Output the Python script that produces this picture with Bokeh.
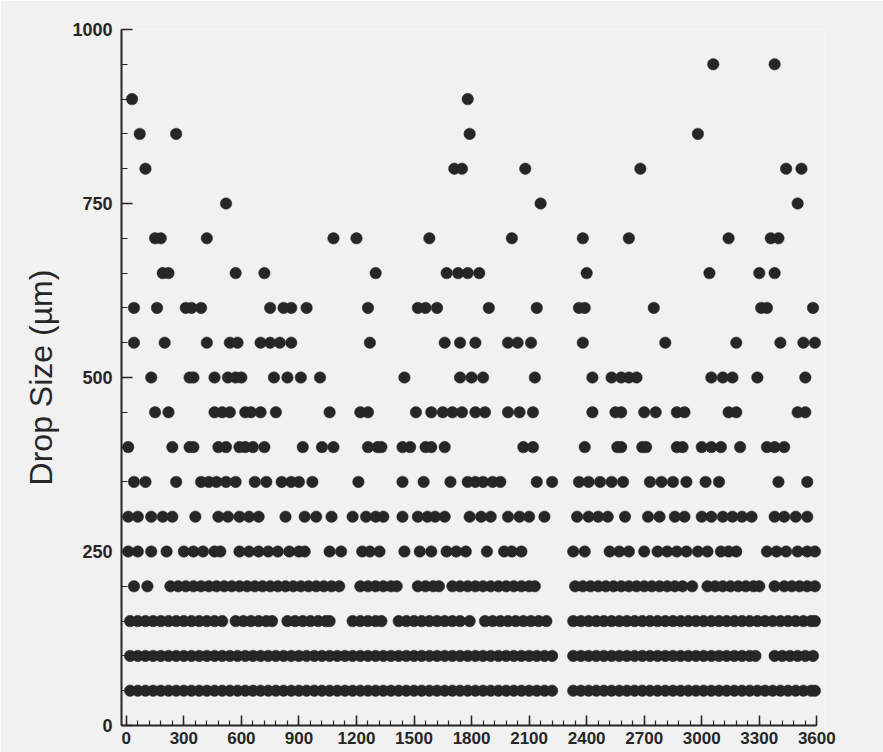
from bokeh.plotting import figure
from bokeh.models import Range1d, FixedTicker, ColumnDataSource
from bokeh.embed import file_html
from bokeh.resources import INLINE

# ---- data: time (s) at which each drop-size class (um) was observed ----
y950 = [3060, 3380]
y900 = [30, 1780]
y850 = [70, 260, 1790, 2980]
y800 = [100, 1710, 1750, 2080, 2680, 3440, 3520]
y750 = [520, 2160, 3500]
y700 = [150, 180, 420, 1080, 1200, 1580, 2010, 2380, 2620, 3140, 3360, 3400]
y650 = [190, 220, 570, 720, 1300, 1670, 1730, 1780, 1840, 2400, 3040, 3300, 3380]
y600 = [40, 160, 310, 340, 390, 750, 820, 860, 940, 1260, 1520, 1560, 1620, 1890,
        2140, 2360, 2390, 2750, 3310, 3340, 3580]
y550 = [40, 200, 420, 540, 580, 700, 750, 800, 860, 1270, 1660, 1740, 1820, 1990,
        2040, 2110, 2380, 2810, 3180, 3410, 3530, 3590]
y500 = [130, 330, 350, 460, 530, 570, 600, 770, 840, 910, 1010, 1450, 1740, 1800,
        1860, 2130, 2430, 2530, 2580, 2620, 2660, 3050, 3110, 3160, 3290, 3540]
y450 = [150, 220, 460, 500, 540, 620, 650, 700, 780, 1060, 1220, 1260, 1510, 1590,
        1650, 1700, 1750, 1820, 1870, 1990, 2050, 2120, 2430, 2550, 2580, 2700, 2760,
        2870, 2910, 3140, 3180, 3500, 3540]
y400 = [10, 240, 330, 350, 480, 520, 590, 620, 660, 720, 920, 1020, 1080, 1260, 1310,
        1330, 1440, 1480, 1560, 1590, 1660, 2070, 2120, 2390, 2560, 2580, 2690, 2710,
        2870, 2900, 3000, 3050, 3100, 3200, 3340, 3380, 3430]
y350 = [40, 100, 260, 390, 430, 470, 520, 570, 670, 730, 810, 860, 900, 970, 1210,
        1440, 1550, 1690, 1780, 1820, 1860, 1910, 1950, 2140, 2220, 2360, 2410, 2470,
        2530, 2590, 2730, 2790, 2850, 2920, 3020, 3090, 3400, 3550]
y300 = [10, 60, 130, 190, 240, 360, 480, 530, 590, 640, 690, 830, 930, 990, 1070,
        1180, 1250, 1300, 1340, 1440, 1520, 1570, 1610, 1660, 1790, 1850, 1900, 1990,
        2050, 2100, 2180, 2350, 2410, 2460, 2510, 2600, 2720, 2780, 2860, 2910, 3000,
        3050, 3110, 3160, 3210, 3260, 3380, 3430, 3490, 3550]
y250 = [10, 60, 130, 210, 300, 350, 400, 460, 490, 590, 640, 690, 740, 790, 850, 900,
        930, 1060, 1120, 1230, 1270, 1320, 1450, 1530, 1590, 1670, 1720, 1770, 1880,
        1970, 2010, 2060, 2330, 2390, 2520, 2570, 2620, 2700, 2770, 2820, 2870, 2920,
        2980, 3030, 3100, 3140, 3180, 3340, 3390, 3440, 3500, 3550, 3590]
y200 = [40, 110, 230, 270, 310, 350, 390, 430, 470, 510, 550, 590, 630, 670, 710, 750,
        790, 830, 870, 910, 950, 990, 1030, 1070, 1110, 1220, 1260, 1300, 1340, 1380,
        1410, 1520, 1560, 1600, 1630, 1700, 1740, 1780, 1820, 1860, 1900, 1940, 1980,
        2020, 2060, 2100, 2130, 2340, 2380, 2420, 2460, 2500, 2540, 2580, 2620, 2660,
        2700, 2740, 2780, 2820, 2860, 2900, 2950, 3030, 3070, 3110, 3150, 3190, 3230,
        3270, 3300, 3380, 3430, 3470, 3510, 3550, 3590]
y150 = [20, 60, 100, 140, 180, 220, 260, 300, 340, 380, 420, 460, 500, 570, 610, 650,
        690, 730, 760, 840, 880, 920, 960, 1000, 1040, 1060, 1180, 1220, 1260, 1300,
        1330, 1420, 1460, 1500, 1540, 1580, 1620, 1660, 1700, 1740, 1790, 1870, 1910,
        1950, 1990, 2030, 2070, 2110, 2150, 2190, 2330, 2370, 2410, 2450, 2490, 2530,
        2570, 2610, 2650, 2690, 2730, 2770, 2810, 2850, 2890, 2930, 2970, 3010, 3050,
        3090, 3130, 3170, 3210, 3250, 3290, 3330, 3370, 3410, 3450, 3490, 3530, 3570,
        3590]
y100 = [20, 60, 100, 140, 180, 220, 260, 300, 340, 380, 420, 460, 500, 540, 580, 620,
        660, 700, 740, 780, 820, 860, 900, 940, 980, 1020, 1060, 1100, 1140, 1180, 1220,
        1260, 1300, 1340, 1380, 1420, 1460, 1500, 1540, 1580, 1620, 1660, 1700, 1740,
        1780, 1820, 1860, 1900, 1940, 1980, 2020, 2060, 2100, 2140, 2180, 2220, 2330,
        2370, 2410, 2450, 2490, 2530, 2570, 2610, 2650, 2690, 2730, 2770, 2810, 2850,
        2890, 2930, 2970, 3010, 3050, 3090, 3130, 3170, 3210, 3250, 3280, 3380, 3420,
        3460, 3500, 3540, 3580]
y50 = [20, 60, 100, 140, 180, 220, 260, 300, 340, 380, 420, 460, 500, 540, 580, 620,
       660, 700, 740, 780, 820, 860, 900, 940, 980, 1020, 1060, 1100, 1140, 1180, 1220,
       1260, 1300, 1340, 1380, 1420, 1460, 1500, 1540, 1580, 1620, 1660, 1700, 1740,
       1780, 1820, 1860, 1900, 1940, 1980, 2020, 2060, 2100, 2140, 2180, 2220, 2330,
       2370, 2410, 2450, 2490, 2530, 2570, 2610, 2650, 2690, 2730, 2770, 2810, 2850,
       2890, 2930, 2970, 3010, 3050, 3090, 3130, 3170, 3210, 3250, 3290, 3330, 3370,
       3410, 3450, 3490, 3530, 3570, 3590]

size_levels = [50, 100, 150, 200, 250, 300, 350, 400, 450, 500, 550, 600, 650, 700,
               750, 800, 850, 900, 950]
time_rows = [y50, y100, y150, y200, y250, y300, y350, y400, y450, y500, y550, y600,
             y650, y700, y750, y800, y850, y900, y950]

x_major_ticks = [0, 300, 600, 900, 1200, 1500, 1800, 2100, 2400, 2700, 3000, 3300, 3600]
y_major_ticks = [0, 250, 500, 750, 1000]
y_label = "Drop Size (\u00b5m)"

xs, ys = [], []
for lvl, row in zip(size_levels, time_rows):
    xs.extend(row)
    ys.extend([lvl] * len(row))
src = ColumnDataSource(data=dict(t=xs, d=ys))

BG = "#f1f1f1"
INK = "#262626"

p = figure(frame_width=703, frame_height=696,
           x_range=Range1d(-25, 3640), y_range=Range1d(0, 1000),
           output_backend="svg", toolbar_location=None,
           min_border_left=121, min_border_right=59,
           min_border_top=29, min_border_bottom=27)
p.background_fill_color = BG
p.border_fill_color = BG
p.outline_line_color = None
p.grid.visible = False

p.scatter("t", "d", source=src, size=11.5, fill_color=INK, line_color=INK, line_width=0.5)

# x axis
xa = p.xaxis[0]
xa.ticker = FixedTicker(ticks=x_major_ticks, minor_ticks=list(range(0, 3601, 60)))
xa.bounds = (-25, 3600)
xa.axis_line_color = INK
xa.axis_line_width = 2
xa.major_tick_line_color = INK
xa.minor_tick_line_color = INK
xa.major_tick_line_width = 1.5
xa.minor_tick_line_width = 1.2
xa.major_tick_in = 10
xa.major_tick_out = 0
xa.minor_tick_in = 5
xa.minor_tick_out = 0
xa.major_label_standoff = 6
xa.major_label_text_font = "Liberation Sans"
xa.major_label_text_font_style = "bold"
xa.major_label_text_font_size = "17px"
xa.major_label_text_color = INK

# y axis
ya = p.yaxis[0]
ya.ticker = FixedTicker(ticks=y_major_ticks, minor_ticks=list(range(0, 1001, 50)))
ya.bounds = (0, 1000)
ya.axis_line_color = INK
ya.axis_line_width = 2
ya.major_tick_line_color = INK
ya.minor_tick_line_color = INK
ya.major_tick_line_width = 1.5
ya.minor_tick_line_width = 1.2
ya.major_tick_in = 11
ya.major_tick_out = 0
ya.minor_tick_in = 6
ya.minor_tick_out = 0
ya.major_label_standoff = 9
ya.major_label_text_font = "Liberation Sans"
ya.major_label_text_font_style = "bold"
ya.major_label_text_font_size = "18px"
ya.major_label_text_color = INK
ya.axis_label = y_label
ya.axis_label_text_font = "Liberation Sans"
ya.axis_label_text_font_style = "normal"
ya.axis_label_text_font_size = "32px"
ya.axis_label_text_color = INK
ya.axis_label_standoff = 10

open("out.html", "w").write(file_html(p, INLINE))
